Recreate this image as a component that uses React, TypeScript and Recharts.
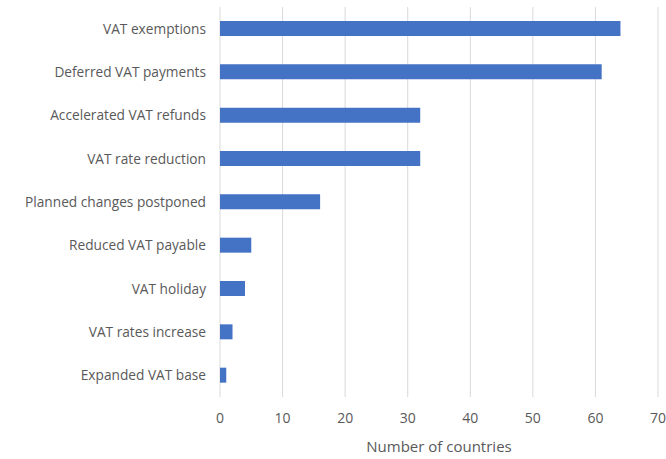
import { BarChart, Bar, XAxis, YAxis, CartesianGrid } from "recharts";

const measures = [
  "VAT exemptions",
  "Deferred VAT payments",
  "Accelerated VAT refunds",
  "VAT rate reduction",
  "Planned changes postponed",
  "Reduced VAT payable",
  "VAT holiday",
  "VAT rates increase",
  "Expanded VAT base"
];
const countries = [64, 61, 32, 32, 16, 5, 4, 2, 1];
const xTicks = [0, 10, 20, 30, 40, 50, 60, 70];

const data = measures.map((m, i) => ({ measure: m, countries: countries[i] }));

const font = "'Open Sans', sans-serif";

export default function App() {
  return (
    <div style={{ position: "absolute", left: 0, top: 0, width: 666, height: 459, background: "#fff", fontFamily: font }}>
      <BarChart
        width={666}
        height={459}
        data={data}
        layout="vertical"
        margin={{ top: 7, right: 8, bottom: 0, left: 0 }}
        barSize={15}
      >
        <CartesianGrid horizontal={false} stroke="#d9d9d9" />
        <XAxis
          type="number"
          domain={[0, 70]}
          ticks={xTicks}
          axisLine={false}
          tickLine={false}
          tickMargin={10}
          height={62}
          tick={{ fill: "#595959", fontSize: 14, fontFamily: font }}
          label={{ value: "Number of countries", position: "insideBottom", offset: 7, fill: "#595959", fontSize: 15, fontFamily: font }}
        />
        <YAxis
          type="category"
          dataKey="measure"
          width={220}
          axisLine={false}
          tickLine={false}
          tickMargin={8}
          interval={0}
          tick={{ fill: "#595959", fontSize: 13.7, fontFamily: font }}
        />
        <Bar dataKey="countries" fill="#4472c4" isAnimationActive={false} />
      </BarChart>
    </div>
  );
}
